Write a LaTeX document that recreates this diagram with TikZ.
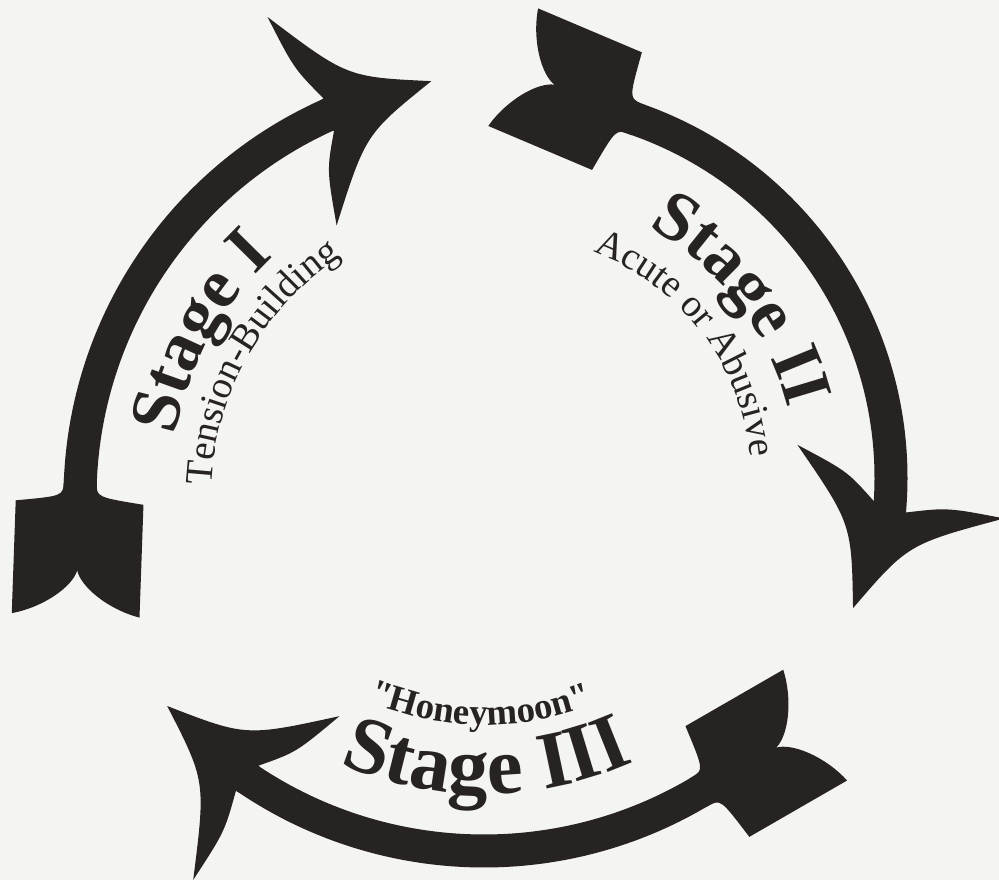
\documentclass[tikz,border=0pt]{standalone}
\usepackage{fontspec}
\setmainfont{Liberation Serif}
\usetikzlibrary{calc,decorations.text}
\definecolor{ink}{RGB}{38,35,33}
\definecolor{paper}{RGB}{244,244,242}
% arrow head, local units of 0.01cm, pointing along +x
\newcommand{\stagehead}[2]{%
  \fill[ink, shift={#1}, rotate=#2, scale=0.01]
    (-3,16) -- (1,17) .. controls (-18,55) .. (-27,112)
    .. controls (30,30) .. (109,0)
    .. controls (30,-30) .. (-26,-108)
    .. controls (-18,-52) .. (1,-17) -- (-3,-16) -- cycle;}
% feathered tail, front edge at the origin
\newcommand{\stagetail}[2]{%
  \fill[ink, shift={#1}, rotate=#2, scale=0.01]
    (3,16.5) -- (0,16.5) .. controls (-14,17) .. (-20,64)
    -- (-133,64) .. controls (-126,32) and (-104,4) .. (-88,0)
    .. controls (-104,-4) and (-126,-32) .. (-133,-64)
    -- (-20,-64) .. controls (-14,-17) .. (0,-16.5) -- (3,-16.5) -- cycle;}
\tikzset{
  shaft/.style={draw=ink, line width=0.33cm},
  bigword/.style={decorate, decoration={text along path, text align=center, text color=ink,
    text={|\bfseries\fontsize{20}{24}\selectfont|#1}}},
  hugeword/.style={decorate, decoration={text along path, text align=center, text color=ink,
    text={|\bfseries\fontsize{23}{27}\selectfont|#1}}},
  smallword/.style={decorate, decoration={text along path, text align=center, text color=ink,
    text={|\fontsize{11}{13}\selectfont|#1}}},
}
\begin{document}
\begin{tikzpicture}
  \useasboundingbox (0,0) rectangle (9.99,8.80);
  \fill[paper] (0,0) rectangle (9.99,8.80);
  % arc centres
  \coordinate (cI) at (5.00,3.82);
  \coordinate (cII) at (5.11,4.02);
  \coordinate (cIII) at (4.84,4.51);
  % stage I
  \draw[shaft] (cI) ++(179:4.20) arc[start angle=179, end angle=113.2, radius=4.20];
  \stagetail{($(cI)+(177.9:4.20)$)}{87.9}
  \stagehead{($(cI)+(114.2:4.20)$)}{18.1}
  % stage II
  \draw[shaft] (cII) ++(72:3.80) arc[start angle=72, end angle=-5.2, radius=3.80];
  \stagetail{($(cII)+(70.9:3.80)$)}{-23}
  \stagehead{($(cII)+(-4.2:3.80)$)}{-109.9}
  % stage III
  \draw[shaft] (cIII) ++(-58.2:4.22) arc[start angle=-58.2, end angle=-125, radius=4.22];
  \stagetail{($(cIII)+(-59.2:4.22)$)}{-150}
  \stagehead{($(cIII)+(-124.0:4.22)$)}{138}
  % labels
  \path[bigword=Stage I] (cI) ++(181.1:3.31) arc[start angle=181.1, end angle=121.1, radius=3.31];
  \path[smallword=Tension-Building] (cI) ++(190.4:2.89) arc[start angle=190.4, end angle=110.4, radius=2.89];
  \path[bigword=Stage II] (cII) ++(67.7:2.86) arc[start angle=67.7, end angle=7.7, radius=2.86];
  \path[smallword=Acute or Abusive] (cII) ++(82.5:2.40) arc[start angle=82.5, end angle=-7.5, radius=2.40];
  \path[hugeword=Stage III] (cIII) ++(-119.5:3.65) arc[start angle=-119.5, end angle=-59.5, radius=3.65];
  \path[decorate, decoration={text along path, text align=center, text color=ink,
    text={|\bfseries\fontsize{10.5}{12}\selectfont|{\textquotedbl}Honeymoon{\textquotedbl}}}]
    (cIII) ++(-130.7:2.96) arc[start angle=-130.7, end angle=-50.7, radius=2.96];
\end{tikzpicture}
\end{document}
